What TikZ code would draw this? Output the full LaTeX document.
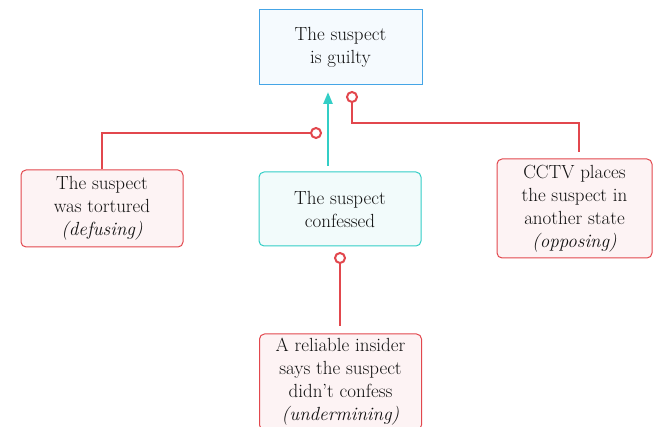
\documentclass[tikz,border=0pt]{standalone}
\usetikzlibrary{arrows.meta}
\definecolor{redl}{HTML}{E2474D}
\definecolor{redf}{HTML}{FDF3F4}
\definecolor{teall}{HTML}{33CEC6}
\definecolor{tealf}{HTML}{F2FBFB}
\definecolor{bluel}{HTML}{45A5E6}
\definecolor{bluef}{HTML}{F5FAFE}
\definecolor{txt}{HTML}{111111}
\tikzset{
  box/.style={draw, line width=1pt, align=center, inner sep=0pt, text=txt,
    font=\fontsize{19}{23}\selectfont},
  claim/.style={box, draw=bluel, fill=bluef},
  prem/.style={box, draw=teall, fill=tealf, rounded corners=5pt},
  attack/.style={box, draw=redl, fill=redf, rounded corners=5pt},
  ring/.style={circle, draw=redl, fill=white, line width=2pt, minimum size=10pt, inner sep=0pt},
  redline/.style={draw=redl, line width=2.5pt},
}
\begin{document}
\begin{tikzpicture}[x=1pt,y=-1pt]
\useasboundingbox (0,0) rectangle (653,427);
\node[claim, minimum width=163pt, minimum height=75pt] (top) at (340.5,47.5) {The suspect\\is guilty};
\node[prem, minimum width=162pt, minimum height=74pt] (mid) at (340,209) {The suspect\\confessed};
\node[attack, minimum width=162pt, minimum height=77pt] (left) at (102,208.5) {The suspect\\was tortured\\\textit{(defusing)}};
\node[attack, minimum width=155pt, minimum height=99pt] (right) at (574.5,208.5) {CCTV places\\the suspect in\\another state\\\textit{(opposing)}};
\node[attack, minimum width=162pt, minimum height=96pt] (bot) at (340.5,382) {A reliable insider\\says the suspect\\didn't confess\\\textit{(undermining)}};
% teal support arrow
\coordinate (as) at (328,166);
\coordinate (ae) at (328,92);
\draw[draw=teall, fill=teall, line width=2.5pt, -{Triangle[length=12pt,width=9pt]}] (as) -- (ae);
% rings
\node[ring] (r1) at (316,133) {};
\node[ring] (r2) at (352,97) {};
\node[ring] (r3) at (340,258) {};
% left attack
\draw[redline] (left.north) |- (r1.west);
% right attack
\coordinate (rs) at (579,152);
\coordinate (rk) at (352,123);
\draw[redline] (rs) |- (rk) -- (r2.south);
% bottom attack
\coordinate (bs) at (340,326);
\draw[redline] (bs) -- (r3.south);
\end{tikzpicture}
\end{document}
